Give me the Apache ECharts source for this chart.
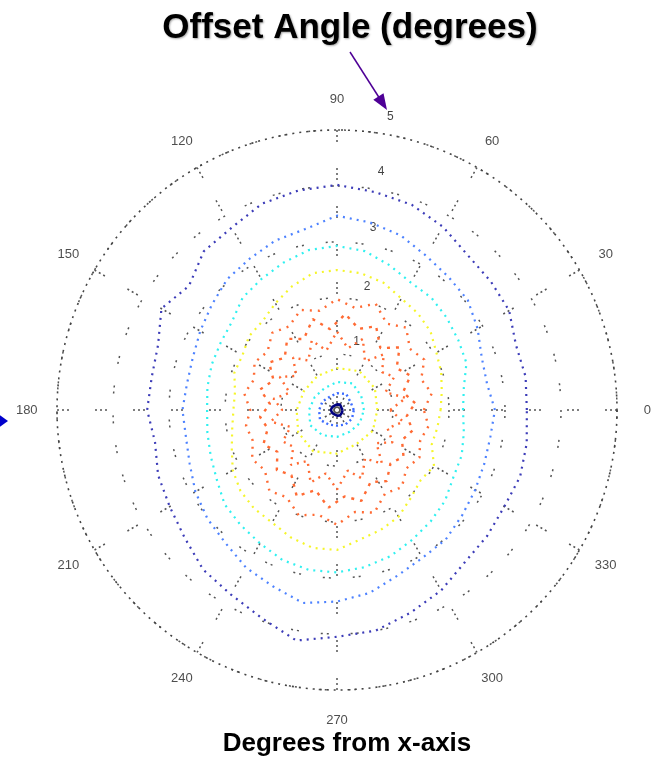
<!DOCTYPE html>
<html>
<head>
<meta charset="utf-8">
<script src="https://cdn.jsdelivr.net/npm/echarts@6/dist/echarts.min.js"></script>
<style>html,body{margin:0;padding:0;background:#fff}#c{width:654px;height:759px}</style>
</head>
<body>
<div id="c"></div>
<script>
// ---- data ----
const ringAngles = [0,10,20,30,40,50,60,70,80,90,100,110,120,130,140,150,160,170,180,190,200,210,220,230,240,250,260,270,280,290,300,310,320,330,340,350];
const ringAnglesOffset = [5,15,25,35,45,55,65,75,85,95,105,115,125,135,145,155,165,175,185,195,205,215,225,235,245,255,265,275,285,295,305,315,325,335,345,355];
const navyR   = [3.39,3.42,3.40,3.55,3.58,3.62,3.78,3.90,3.95,4.02,3.98,3.92,3.76,3.70,3.45,3.62,3.40,3.36,3.39,3.30,3.40,3.45,3.55,3.72,3.80,3.95,4.18,4.05,4.00,3.85,3.72,3.55,3.50,3.45,3.48,3.44];
const blueR   = [2.82,2.72,2.75,2.90,3.05,3.10,3.18,3.32,3.40,3.47,3.28,3.22,3.12,3.05,2.92,2.82,2.74,2.72,2.76,2.74,2.80,2.92,3.02,3.10,3.25,3.35,3.50,3.42,3.32,3.15,3.05,3.02,2.92,2.85,2.80,2.78];
const cyanR   = [2.25,2.30,2.46,2.50,2.56,2.62,2.63,2.75,2.88,2.93,2.90,2.80,2.70,2.62,2.45,2.40,2.38,2.35,2.32,2.35,2.40,2.48,2.62,2.68,2.75,2.85,2.90,2.90,2.85,2.78,2.68,2.60,2.52,2.40,2.37,2.30];
const yellowR = [1.85,1.90,1.98,2.05,2.18,2.25,2.30,2.42,2.48,2.50,2.48,2.35,2.20,2.07,2.05,1.95,1.95,1.85,1.85,1.90,2.00,2.15,2.25,2.30,2.32,2.42,2.50,2.50,2.35,2.28,2.20,2.05,1.95,2.00,1.80,1.82];
const orangeRA = [0.95,1.25,0.92,1.18,1.05,1.30,1.00,1.35,1.12,1.40,1.08,1.32,1.02,1.22,0.95,1.18,0.90,1.15,0.98,1.20,0.88,1.12,1.02,1.28,1.05,1.38,1.15,1.42,1.10,1.30,1.00,1.25,0.92,1.15,0.96,1.20];
const orangeRB = [1.40,1.22,1.45,1.30,1.58,1.35,1.65,1.50,1.72,1.45,1.68,1.40,1.55,1.32,1.48,1.25,1.42,1.20,1.38,1.28,1.45,1.30,1.52,1.42,1.70,1.48,1.75,1.55,1.68,1.42,1.55,1.35,1.45,1.28,1.40,1.25];
const orangeRC = [1.55,1.72,1.60,1.80,1.70,1.92,1.78,2.02,1.85,1.98,1.80,1.90,1.72,1.80,1.62,1.70,1.58,1.68,1.55,1.65,1.60,1.75,1.68,1.88,1.80,2.00,1.90,2.05,1.85,1.95,1.72,1.80,1.62,1.70,1.58,1.66];
const innerAngles = [0,30,60,90,120,150,180,210,240,270,300,330];
const yellowInnerR = [0.72,0.78,0.80,0.75,0.70,0.68,0.72,0.80,0.85,0.78,0.70,0.74];
const cyanInnerR   = [0.48,0.50,0.55,0.50,0.45,0.46,0.50,0.55,0.52,0.48,0.45,0.47];
const blueInnerR   = [0.30,0.28,0.33,0.30,0.27,0.30,0.32,0.35,0.30,0.28,0.30,0.31];
const navyInnerR   = [0.10,0.09,0.11,0.10,0.09,0.10,0.11,0.10,0.09,0.10,0.11,0.10];
const angleTicks  = [0,30,60,90,120,150,180,210,240,270,300,330];
const angleLabels = ['0','30','60','90','120','150','180','210','240','270','300','330'];
const radialLabels = ['1','2','3','4','5'];
const radialLabelPos = [[1.27,74],[2.26,76.3],[3.31,78.8],[4.32,79.5],[5.32,79.7]];
const angleLabelR = 5.54;

function ring(radii, angs){
  const d = radii.map((r,i)=>[r, angs[i]]);
  d.push([radii[0], angs[0] + 360]);
  return d;
}
function contour(name, radii, angs, color, width, dash){
  return {
    name, type:'line', coordinateSystem:'polar', data: ring(radii, angs),
    symbol:'none', silent:true, animation:false,
    lineStyle:{color, width, type: dash}
  };
}

const chart = echarts.init(document.getElementById('c'), null, {renderer:'canvas'});
const option = {
  backgroundColor:'#fff',
  animation:false,
  polar:{center:[337,410], radius:280},
  angleAxis:{
    type:'value', min:0, max:360, interval:30, startAngle:0, clockwise:false,
    axisLine:{show:true, lineStyle:{color:'#444', width:1.6, type:[2,5]}},
    axisTick:{show:false},
    axisLabel:{show:false},
    splitLine:{show:true, lineStyle:{color:'#555', width:1.5, type:[2,3,2,3,2,26]}}
  },
  radiusAxis:{
    type:'value', min:0, max:5, interval:1,
    axisLine:{show:false}, axisTick:{show:false}, axisLabel:{show:false},
    splitLine:{show:true, lineStyle:{color:'#555', width:1.5, type:[2,4,2,22]}}
  },
  series:[
    contour('orangeA', orangeRA, ringAngles, '#ff6a33', 2.4, [2,5]),
    contour('orangeB', orangeRB, ringAnglesOffset, '#ff6a33', 2.4, [3,6]),
    contour('orangeC', orangeRC, ringAngles, '#ff6a33', 2.4, [2,6]),
    contour('navy', navyR, ringAngles, '#3c3cb8', 2.2, [2,5]),
    contour('blue', blueR, ringAngles, '#4d82ff', 2.2, [2,5]),
    contour('cyan', cyanR, ringAngles, '#30f0f0', 2.2, [2,5]),
    contour('yellow', yellowR, ringAngles, '#f5f52a', 2.2, [2,5]),
    contour('yellowInner', yellowInnerR, innerAngles, '#f5f52a', 2.2, [2,4]),
    contour('cyanInner', cyanInnerR, innerAngles, '#30f0f0', 2.2, [2,4]),
    contour('blueInner', blueInnerR, innerAngles, '#3d6cff', 2.4, [2,3]),
    contour('navyInner', navyInnerR, innerAngles, '#00007f', 2.6, 'solid'),
    {
      name:'angleLabels', type:'scatter', coordinateSystem:'polar', silent:true, animation:false,
      symbolSize:0, clip:false,
      data: angleTicks.map((a,i)=>({value:[angleLabelR, a], name:angleLabels[i]})),
      label:{show:true, position:'inside', formatter:p=>p.name, color:'#222', fontSize:13, fontFamily:'Liberation Sans'}
    },
    {
      name:'radialLabels', type:'scatter', coordinateSystem:'polar', silent:true, animation:false,
      symbolSize:0, clip:false,
      data: radialLabelPos.map((p,i)=>({value:p, name:radialLabels[i]})),
      label:{show:true, position:'inside', formatter:p=>p.name, color:'#111', fontSize:12, fontFamily:'Liberation Sans'}
    }
  ],
  graphic:[
    {type:'text', style:{text:'Offset Angle (degrees)', x:350, y:28, align:'center', verticalAlign:'middle', font:'bold 35px "Liberation Sans"', fill:'#000', textShadowColor:'rgba(0,0,0,0.35)', textShadowBlur:2, textShadowOffsetX:1, textShadowOffsetY:1}},
    {type:'text', style:{text:'Degrees from x-axis', x:347, y:744, align:'center', verticalAlign:'middle', font:'bold 26px "Liberation Sans"', fill:'#000'}},
    {type:'line', shape:{x1:350, y1:52, x2:380, y2:99}, style:{stroke:'#4e0096', lineWidth:1.5}},
    {type:'polygon', shape:{points:[[387,110],[373.3,99.7],[383.5,93.3]]}, style:{fill:'#4e0096'}},
    {type:'polygon', shape:{points:[[-6,411],[8,421],[-6,431]]}, style:{fill:'#0000cc'}}
  ]
};
chart.setOption(option);
</script>
</body>
</html>
